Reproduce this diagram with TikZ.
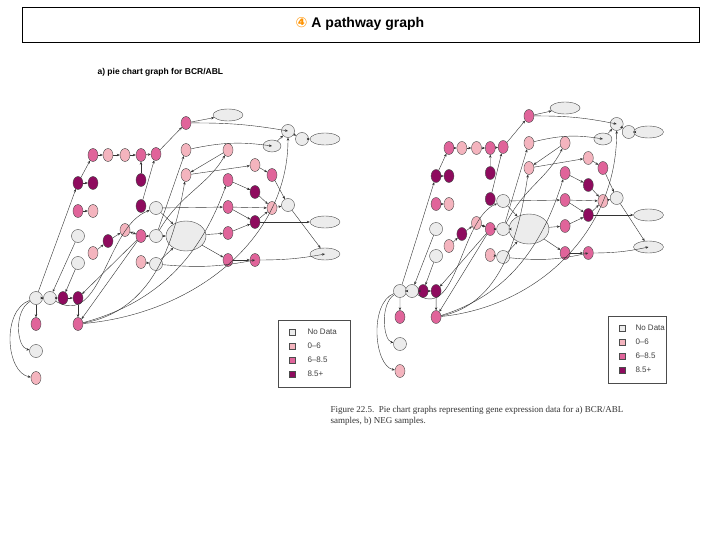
\documentclass[tikz,border=0pt]{standalone}
\usepackage{fontspec}
\setmainfont{Liberation Serif}
\setsansfont{Liberation Sans}
\newfontfamily\dvs{DejaVu Sans}
\usetikzlibrary{shapes.geometric,arrows.meta}
\definecolor{cgray}{HTML}{ECECEC}
\definecolor{clt}{HTML}{F4B4BE}
\definecolor{cpk}{HTML}{E0649A}
\definecolor{cdk}{HTML}{8E0B5E}
\tikzset{
 base/.style={ellipse,draw=black!70,line width=0.4pt,inner sep=0pt,minimum width=10pt,minimum height=13pt},
 nd/.style={base,fill=cgray,minimum width=13pt,minimum height=13pt},
 lt/.style={base,fill=clt},
 pk/.style={base,fill=cpk},
 dk/.style={base,fill=cdk},
 el/.style={base,fill=cgray,minimum width=30pt,minimum height=12pt},
 bigel/.style={base,fill=cgray,minimum width=40pt,minimum height=30pt},
 ar/.style={-{Stealth[length=3pt,width=2.5pt]},line width=0.4pt,black!80},
 lg/.style={draw=black!70,minimum size=6pt,inner sep=0pt},
}
\newcommand\pathgraph{%
 \node[pk] (a1) at (186,123) {};
 \node[el] (e1) at (228,115) {};
 \node[nd] (e2) at (288,131) {};
 \node[nd] (e3) at (302,139) {};
 \node[el] (e4) at (325,139) {};
 \node[pk] (r1) at (93,155) {};
 \node[lt] (r2) at (108,155) {};
 \node[lt] (r3) at (125,155) {};
 \node[pk] (r4) at (141,155) {};
 \node[pk] (r5) at (156,154) {};
 \node[lt] (b1) at (186,150) {};
 \node[el,minimum width=18pt] (b2) at (272,146) {};
 \node[lt] (c1) at (228,150) {};
 \node[lt] (c2) at (186,175) {};
 \node[lt] (c3) at (255,165) {};
 \node[pk] (c4) at (272,175) {};
 \node[pk] (c5) at (228,180) {};
 \node[dk] (c6) at (255,192) {};
 \node[dk] (l1) at (78,183) {};
 \node[dk] (l2) at (93,183) {};
 \node[dk] (l3) at (141,180) {};
 \node[pk] (l4) at (78,211) {};
 \node[lt] (l5) at (93,211) {};
 \node[dk] (m1) at (141,206) {};
 \node[nd] (m2) at (156,208) {};
 \node[pk] (d1) at (228,207) {};
 \node[lt] (d2) at (272,208) {};
 \node[nd] (d3) at (288,205) {};
 \node[dk] (d4) at (255,222) {};
 \node[el] (d5) at (325,222) {};
 \node[pk] (d6) at (228,233) {};
 \node[el] (d7) at (325,254) {};
 \node[nd] (n1) at (78,236) {};
 \node[lt] (n2) at (125,230) {};
 \node[dk] (n3) at (108,241) {};
 \node[pk] (n4) at (141,236) {};
 \node[nd] (n5) at (156,236) {};
 \node[bigel] (big) at (186,236) {};
 \node[nd] (o1) at (78,263) {};
 \node[lt] (o2) at (93,253) {};
 \node[lt] (o3) at (141,262) {};
 \node[nd] (o4) at (156,264) {};
 \node[pk] (o5) at (228,260) {};
 \node[pk] (o6) at (255,260) {};
 \node[nd] (p1) at (36,298) {};
 \node[nd] (p2) at (50,298) {};
 \node[dk] (p3) at (63,298) {};
 \node[dk] (p4) at (78,298) {};
 \node[pk] (q1) at (36,324) {};
 \node[pk] (q2) at (78,324) {};
 \node[nd] (q3) at (36,351) {};
 \node[lt] (q4) at (36,378) {};
 % edges
 \draw[ar] (a1) -- (e1);
 \draw[ar] (a1) to[bend left=5] (e2);
 \draw[ar] (e2) -- (e3);
 \draw[ar] (e3) -- (e4);
 \draw[ar] (r5) -- (a1);
 \draw[ar] (r1) -- (r2); \draw[ar] (r2) -- (r3); \draw[ar] (r3) -- (r4); \draw[ar] (r4) -- (r5);
 \draw[ar] (l1) -- (r1);
 \draw[ar] (l1) -- (l2);
 \draw[ar] (l4) -- (l5);
 \draw[ar] (b1) to[bend left=10] (b2);
 \draw[ar] (b2) -- (e2);
 \draw[ar] (c1) -- (c2);
 \draw[ar] (c2) -- (c3);
 \draw[ar] (c3) -- (c4);
 \draw[ar] (c4) -- (d3);
 \draw[ar] (c5) -- (c6);
 \draw[ar] (c6) -- (d2);
 \draw[ar] (d1) -- (d4);
 \draw[ar] (d1) -- (d2);
 \draw[ar] (d4) -- (d2);
 \draw[ar] (d2) -- (d3);
 \draw[ar] (d4) -- (d5);
 \draw[ar] (d3) -- (d7);
 \draw[ar] (d6) -- (d4);
 \draw[ar] (big) -- (d6);
 \draw[ar] (big) -- (o5);
 \draw[ar] (o5) -- (o6);
 \draw[ar] (o6) to[bend right=5] (d7);
 \draw[ar] (o4) to[bend right=8] (o6);
 \draw[ar] (m2) -- (big);
 \draw[ar] (n5) -- (big);
 \draw[ar] (o4) -- (big);
 \draw[ar] (m1) -- (r5);
 \draw[ar] (l3) -- (r4);
 \draw[ar] (n4) -- (n2);
 \draw[ar] (n2) -- (n4);
 \draw[ar] (n3) -- (n2);
 \draw[ar] (o2) -- (n3);
 \draw[ar] (n4) -- (n5);
 \draw[ar] (o3) -- (o4);
 \draw[ar] (n5) -- (b1);
 \draw[ar] (n5) to[out=60,in=-120] (c1);
 \draw[ar] (n4) -- (p4);
 \draw[ar] (n4) -- (q2);
 \draw[ar] (q2) to[out=10,in=-100] (c2);
 \draw[ar] (q2) to[out=15,in=-110] (c5);
 \draw[ar] (q2) to[out=5,in=-90] (e2);
 \draw[ar] (p4) -- (q2);
 \draw[ar] (o1) -- (p3);
 \draw[ar] (n1) -- (p2);
 \draw[ar] (p1) -- (p2); \draw[ar] (p2) -- (p3); \draw[ar] (p3) -- (p4);
 \draw[ar] (p1) -- (q1);
 \draw[ar] (p1) to[out=-150,in=170] (q3);
 \draw[ar] (p1) to[out=-160,in=170] (q4);
 \draw[ar] (p1) to[out=70,in=-110] (l1);
 \draw[ar] (p2) to[out=-30,in=-160] (m2);
 \draw[ar] (m2) -- (d1);
}
\newcommand\legend[3]{%
 \node[draw=black!70,minimum width=#2,minimum height=67pt,anchor=north west] (lgbox) at (#1) {};
 \begin{scope}[font=\sffamily\fontsize{8}{8}\selectfont,text=black!75]
 \node[lg,fill=cgray] (k1) at ([xshift=14pt,yshift=-12pt]lgbox.north west) {};
 \node[lg,fill=clt] (k2) at ([yshift=-14pt]k1) {};
 \node[lg,fill=cpk] (k3) at ([yshift=-14pt]k2) {};
 \node[lg,fill=cdk] (k4) at ([yshift=-14pt]k3) {};
 \node[anchor=west] at ([xshift=#3]k1) {No Data};
 \node[anchor=west] at ([xshift=#3]k2) {0--6};
 \node[anchor=west] at ([xshift=#3]k3) {6--8.5};
 \node[anchor=west] at ([xshift=#3]k4) {8.5+};
 \end{scope}}
\begin{document}
\begin{tikzpicture}[x=1pt,y=-1pt]
\useasboundingbox (0,0) rectangle (720,540);
\fill[white] (0,0) rectangle (720,540);
\node[draw,line width=0.6pt,minimum width=677pt,minimum height=35pt,anchor=north west] (tbox) at (22,7) {};
\node[font=\sffamily\bfseries\fontsize{14}{16}\selectfont] (title) at (360,24) {{\dvs\color{orange!85!yellow}④} A pathway graph};
\node[font=\sffamily\bfseries\fontsize{8.5}{10}\selectfont,anchor=west] (sub) at (94,72) {a) pie chart graph for BCR/ABL};
\begin{scope}[name prefix=L-]
\pathgraph
\legend{278,320}{72pt}{12pt}
\end{scope}
\begin{scope}[name prefix=R-,shift={(369,-7)},xscale=0.86]
\pathgraph
\end{scope}
\begin{scope}[name prefix=RL-]
\legend{608,316}{58pt}{10pt}
\end{scope}
\node[font=\fontsize{9}{11}\selectfont,text=black!80,anchor=north west,align=left] (cap) at (327,403) {Figure 22.5.\ \ Pie chart graphs representing gene expression data for a) BCR/ABL\\samples, b) NEG samples.};
\end{tikzpicture}
\end{document}
